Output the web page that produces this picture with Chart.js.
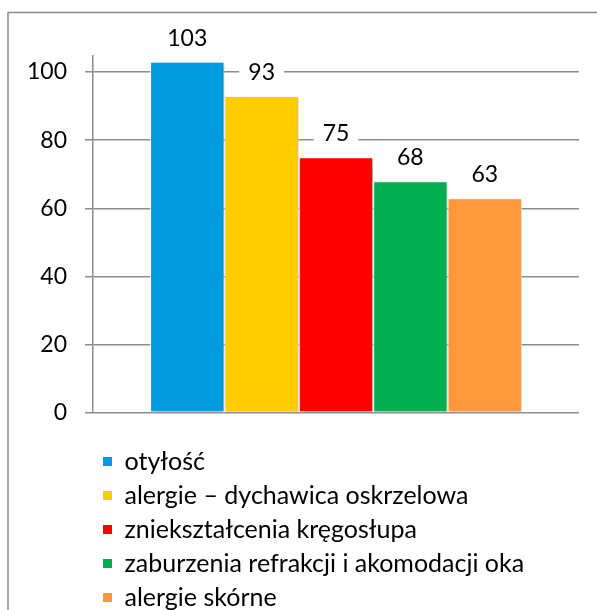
<!DOCTYPE html>
<html>
<head>
<meta charset="utf-8">
<script src="https://cdn.jsdelivr.net/npm/chart.js@4/dist/chart.umd.min.js"></script>
<style>
  html, body { margin: 0; padding: 0; background: #ffffff; overflow: hidden; }
  #wrap { position: relative; width: 597px; height: 620px; }
</style>
</head>
<body>
<div id="wrap"><canvas id="c"></canvas></div>
<script>
// ---- data ----
const categories = [''];
const seriesNames = [
  'otyłość',
  'alergie – dychawica oskrzelowa',
  'zniekształcenia kręgosłupa',
  'zaburzenia refrakcji i akomodacji oka',
  'alergie skórne'
];
const seriesValues = [103, 93, 75, 68, 63];
const seriesColors = ['#009ADE', '#FFCC00', '#FF0000', '#00B050', '#FF9A3C'];
const yTicks = [0, 20, 40, 60, 80, 100];

const FONT = 'Lato, "Open Sans", sans-serif';
const FS = 23;
const LFS = 25;

const datasets = seriesNames.map((name, i) => ({
  label: name,
  data: [seriesValues[i]],
  backgroundColor: seriesColors[i],
  borderColor: '#ffffff',
  borderWidth: 1,
  borderSkipped: false,
  barPercentage: 1.0,
  categoryPercentage: 0.765
}));

const frame = {
  id: 'frame',
  beforeDraw(chart) {
    const ctx = chart.ctx;
    ctx.save();
    ctx.strokeStyle = '#8c8c8c';
    ctx.lineWidth = 1.5;
    ctx.strokeRect(8, 12.5, 1000, 1000);
    ctx.restore();
  }
};

const shadow = {
  id: 'shadow',
  beforeDatasetsDraw(chart) {
    const ctx = chart.ctx;
    ctx.save();
    ctx.shadowColor = 'rgba(0,0,0,0.28)';
    ctx.shadowBlur = 3;
    ctx.shadowOffsetX = 1.5;
    ctx.shadowOffsetY = 1;
  },
  afterDatasetsDraw(chart) {
    chart.ctx.restore();
  }
};

const valueLabels = {
  id: 'valueLabels',
  afterDatasetsDraw(chart) {
    const ctx = chart.ctx;
    ctx.save();
    ctx.font = FS + 'px ' + FONT;
    ctx.textAlign = 'center';
    ctx.textBaseline = 'alphabetic';
    chart.data.datasets.forEach((ds, i) => {
      const meta = chart.getDatasetMeta(i);
      meta.data.forEach((bar, j) => {
        const txt = String(ds.data[j]);
        const w = ctx.measureText(txt).width;
        const base = bar.y - 16;
        ctx.fillStyle = '#ffffff';
        ctx.fillRect(bar.x - w / 2 - 9, base - 22, w + 18, 29);
        ctx.fillStyle = '#000000';
        ctx.fillText(txt, bar.x, base);
      });
    });
    ctx.restore();
  }
};

const legendColumn = {
  id: 'legendColumn',
  beforeLayout(chart) {
    const lg = chart.legend;
    if (lg && !lg._colPatched) {
      const origFit = lg.fit;
      lg.fit = function () {
        const mw = this.maxWidth;
        this.maxWidth = 1;
        origFit.call(this);
        this.maxWidth = mw;
        this.width = mw;
      };
      lg.draw = function () {
        if (!this.options.display) return;
        const saveL = this.left, saveR = this.right;
        this.left = 94;
        this.right = 95;
        this._draw();
        this.left = saveL;
        this.right = saveR;
      };
      lg._colPatched = true;
    }
  }
};

new Chart(document.getElementById('c'), {
  type: 'bar',
  data: { labels: categories, datasets },
  plugins: [frame, shadow, valueLabels, legendColumn],
  options: {
    responsive: true,
    maintainAspectRatio: false,
    animation: false,
    layout: { padding: { left: 20, right: 18, top: 56, bottom: 0 } },
    plugins: {
      tooltip: { enabled: false },
      legend: {
        position: 'bottom',
        align: 'start',
        labels: {
          font: { family: FONT, size: LFS },
          color: '#000000',
          boxWidth: 9,
          boxHeight: 9,
          padding: 9,
          generateLabels(chart) {
            const items = Chart.defaults.plugins.legend.labels.generateLabels(chart);
            items.forEach(it => { it.lineWidth = 0; it.strokeStyle = 'rgba(0,0,0,0)'; });
            return items;
          }
        }
      }
    },
    scales: {
      x: {
        display: true,
        grid: { display: false, drawTicks: false },
        border: { display: false },
        ticks: { display: false },
        afterFit(s) { s.height = 27; }
      },
      y: {
        min: 0,
        max: 104.7,
        grid: { color: '#8c8c8c', lineWidth: 1.5, tickLength: 8, drawTicks: true },
        border: { display: true, color: '#8c8c8c', width: 1.5 },
        ticks: {
          stepSize: 20,
          includeBounds: false,
          padding: 18,
          color: '#000000',
          font: { family: FONT, size: FS }
        },
        afterBuildTicks(s) {
          s.ticks = yTicks.map(v => ({ value: v }));
        },
        afterFit(s) { s.width = 73; }
      }
    }
  }
});
</script>
</body>
</html>
